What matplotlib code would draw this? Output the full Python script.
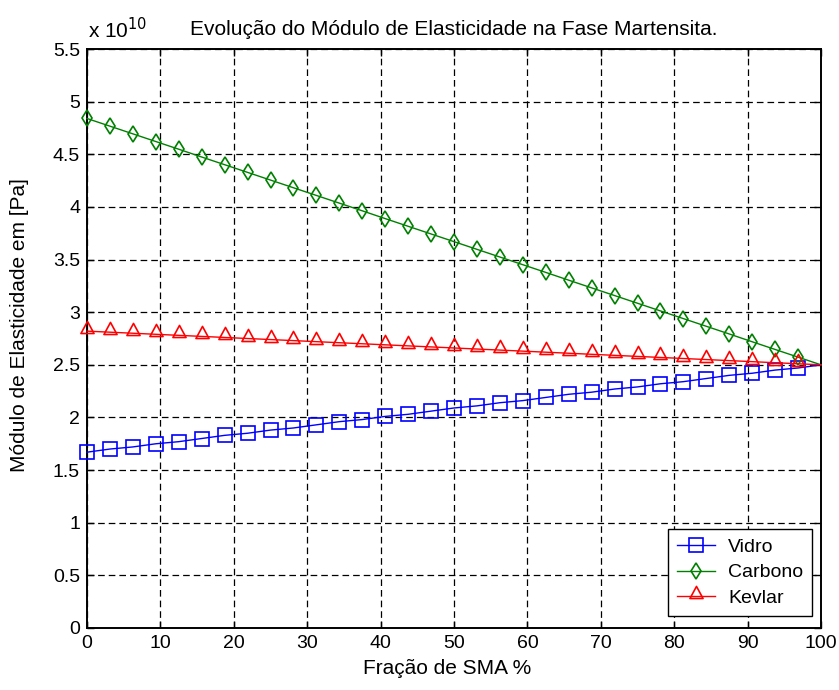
import matplotlib
matplotlib.use("Agg")
import matplotlib.pyplot as plt
from matplotlib.path import Path

# Fraction of SMA in the composite (%)
fracao = [0.0, 3.125, 6.25, 9.375, 12.5, 15.625, 18.75, 21.875, 25.0, 28.125,
          31.25, 34.375, 37.5, 40.625, 43.75, 46.875, 50.0, 53.125, 56.25,
          59.375, 62.5, 65.625, 68.75, 71.875, 75.0, 78.125, 81.25, 84.375,
          87.5, 90.625, 93.75, 96.875, 100.0]

# Elastic modulus in the martensite phase, in units of 1e10 Pa
vidro = [1.67, 1.70, 1.72, 1.75, 1.77, 1.80, 1.83, 1.85, 1.88, 1.90, 1.93,
         1.96, 1.98, 2.01, 2.03, 2.06, 2.09, 2.11, 2.14, 2.16, 2.19, 2.22,
         2.24, 2.27, 2.29, 2.32, 2.34, 2.37, 2.40, 2.42, 2.45, 2.47, 2.50]
carbono = [4.840, 4.767, 4.694, 4.621, 4.548, 4.474, 4.401, 4.328, 4.255,
           4.182, 4.109, 4.036, 3.963, 3.889, 3.816, 3.743, 3.670, 3.597,
           3.524, 3.451, 3.378, 3.304, 3.231, 3.158, 3.085, 3.012, 2.939,
           2.866, 2.793, 2.719, 2.646, 2.573, 2.500]
kevlar = [2.82, 2.81, 2.80, 2.79, 2.78, 2.77, 2.76, 2.75, 2.74, 2.73, 2.72,
          2.71, 2.70, 2.69, 2.68, 2.67, 2.66, 2.65, 2.64, 2.63, 2.62, 2.61,
          2.60, 2.59, 2.58, 2.57, 2.56, 2.55, 2.54, 2.53, 2.52, 2.51, 2.50]

xticks = [0, 10, 20, 30, 40, 50, 60, 70, 80, 90, 100]
yticks = [0, 0.5, 1, 1.5, 2, 2.5, 3, 3.5, 4, 4.5, 5, 5.5]
ytick_labels = ["0", "0.5", "1", "1.5", "2", "2.5", "3", "3.5", "4", "4.5", "5", "5.5"]

plt.rcParams["font.family"] = ["Liberation Sans", "DejaVu Sans"]

W, H = 839, 690
L, R, T, B = 87, 821, 49, 628
fig = plt.figure(figsize=(W / 100, H / 100), dpi=100)
ax = fig.add_axes([L / W, 1 - B / H, (R - L) / W, (B - T) / H])

# triangle whose base sits just below the data point
tri = Path([(0, 1.0), (-0.65, -0.2), (0.65, -0.2), (0, 1.0)],
           [Path.MOVETO, Path.LINETO, Path.LINETO, Path.CLOSEPOLY])

markers_idx = list(range(len(fracao) - 1))
series = [
    (vidro, "#0000ff", "s", 9.5, "Vidro"),
    (carbono, "#008000", "d", 7.8, "Carbono"),
    (kevlar, "#ff0000", tri, 14.5, "Kevlar"),
]
for vals, col, mk, ms, lab in series:
    ax.plot(fracao, vals, color=col, lw=1.0, marker=mk, markersize=ms,
            markerfacecolor="none", markeredgecolor=col, markeredgewidth=1.2,
            markevery=markers_idx, label=lab, clip_on=False, zorder=3)

ax.set_xlim(0, 100)
ax.set_ylim(0, 5.5)
ax.set_xticks(xticks)
ax.set_yticks(yticks)
ax.set_yticklabels(ytick_labels)
ax.grid(True, color="black", linestyle=(0, (5.3, 3.2)), linewidth=0.9)
ax.set_axisbelow(True)
ax.tick_params(direction="in", top=True, right=True, length=5, width=1,
               labelsize=14, pad=5)
for s in ax.spines.values():
    s.set_linewidth(1.4)

ax.set_xlabel("Fração de SMA %", fontsize=15, va="center")
ax.xaxis.set_label_coords((447 - L) / (R - L), (B - 668) / (B - T))
ax.set_ylabel("Módulo de Elasticidade em [Pa]", fontsize=15, va="center")
ax.yaxis.set_label_coords((20 - L) / (R - L), (B - 325) / (B - T))
ax.set_title("Evolução do Módulo de Elasticidade na Fase Martensita.",
             fontsize=15, pad=10, x=0.5)
ax.text(0.0015, 1 + 11 / (B - T), r"x 10$^{10}$", transform=ax.transAxes,
        fontsize=15, ha="left", va="baseline")

leg = ax.legend(loc="lower right",
                bbox_to_anchor=((812 - L) / (R - L), (B - 616) / (B - T)),
                borderaxespad=0, frameon=True, fancybox=False,
                edgecolor="black", framealpha=1, fontsize=14,
                handlelength=2.0, handletextpad=0.65,
                labelspacing=0.42, borderpad=0.45)
leg.get_frame().set_linewidth(1.0)

fig.savefig("out.png", dpi=100)
